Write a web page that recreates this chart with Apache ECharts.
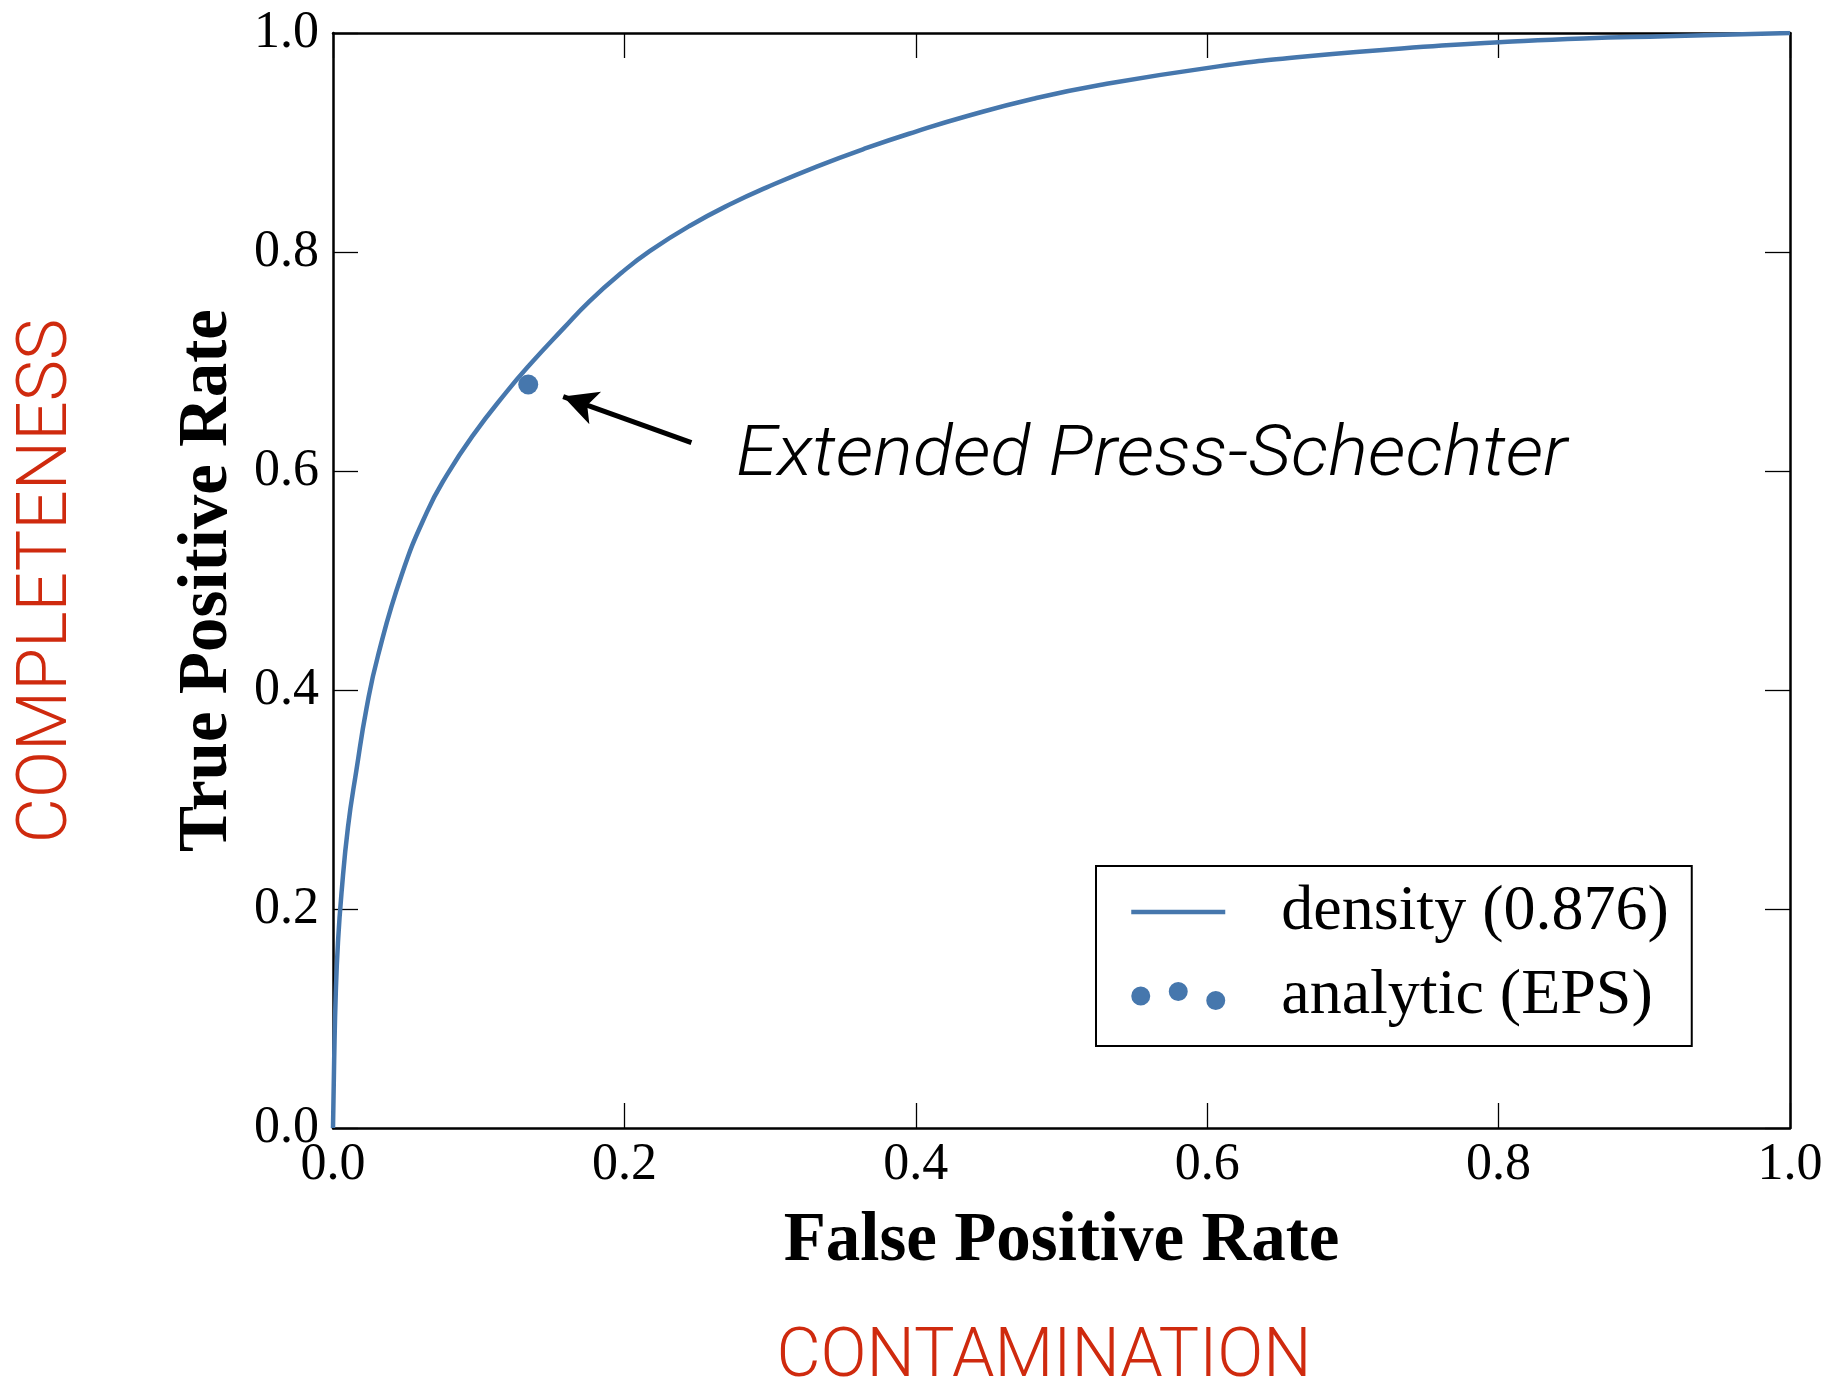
<!DOCTYPE html>
<html><head><meta charset="utf-8">
<script src="https://cdn.jsdelivr.net/npm/echarts@6/dist/echarts.min.js"></script>
<style>html,body{margin:0;padding:0;background:#fff}#c{width:1832px;height:1389px}</style>
</head><body><div id="c"></div>
<script>
// ROC curve (density model)
const fpr = [0, 0.0008, 0.0019, 0.0034, 0.0058, 0.0103, 0.0161, 0.0231, 0.031, 0.0471, 0.0643, 0.078, 0.0963, 0.119, 0.135, 0.158, 0.176, 0.198, 0.2176, 0.245, 0.2747, 0.2977, 0.332, 0.3663, 0.4001, 0.4348, 0.4807, 0.5264, 0.603, 0.669, 0.761, 0.803, 0.858, 0.915, 1.0];
const tpr = [0, 0.062, 0.123, 0.169, 0.214, 0.275, 0.327, 0.384, 0.432, 0.505, 0.562, 0.596, 0.633, 0.672, 0.697, 0.730, 0.755, 0.781, 0.801, 0.824, 0.845, 0.859, 0.878, 0.895, 0.910, 0.924, 0.940, 0.9525, 0.9686, 0.9788, 0.9885, 0.9917, 0.995, 0.997, 1.0];
// analytic (EPS) point
const epsPoint = [0.134, 0.679];
// annotation arrow (from text towards the point)
const arrowFrom = [0.246, 0.626];
const arrowTo = [0.158, 0.668];
const tickLabels = ['0.0', '0.2', '0.4', '0.6', '0.8', '1.0'];
const seriesNames = ['density (0.876)', 'analytic (EPS)'];
const xTitle = 'False Positive Rate';
const yTitle = 'True Positive Rate';
const annotationText = 'Extended Press-Schechter';
const redX = 'CONTAMINATION';
const redY = 'COMPLETENESS';

const BLUE = '#4677ad';
const RED = '#cf2a0e';
const SERIF = 'Liberation Serif';

const fmt = v => tickLabels[Math.round(v / 0.2)] ?? '';

const chart = echarts.init(document.getElementById('c'), null, {renderer: 'canvas'});

const baseAxis = {
  type: 'value', min: 0, max: 1, interval: 0.2,
  splitLine: {show: false},
  axisLine: {show: true, onZero: false, lineStyle: {color: '#000', width: 2.5}},
  axisTick: {show: true, inside: true, length: 25, lineStyle: {color: '#000', width: 1.3}},
};

chart.setOption({
  animation: false,
  backgroundColor: '#fff',
  grid: {left: 333, right: 42, top: 33, bottom: 261, containLabel: false, outerBoundsMode: 'none'},
  xAxis: [
    Object.assign({}, baseAxis, {
      position: 'bottom',
      name: xTitle, nameLocation: 'middle', nameGap: 80,
      nameTextStyle: {fontFamily: SERIF, fontWeight: 'bold', fontSize: 69, color: '#000'},
      axisLabel: {formatter: fmt, fontFamily: SERIF, fontSize: 52, color: '#000', margin: 11}
    }),
    Object.assign({}, baseAxis, {position: 'top', axisLabel: {show: false}})
  ],
  yAxis: [
    Object.assign({}, baseAxis, {
      position: 'left',
      name: yTitle, nameLocation: 'middle', nameGap: 90,
      nameTextStyle: {fontFamily: SERIF, fontWeight: 'bold', fontSize: 69, color: '#000'},
      axisLabel: {formatter: fmt, fontFamily: SERIF, fontSize: 52, color: '#000', margin: 14}
    }),
    Object.assign({}, baseAxis, {position: 'right', axisLabel: {show: false}})
  ],
  legend: {
    orient: 'vertical', left: 1096, top: 866,
    backgroundColor: '#fff', borderColor: '#000', borderWidth: 2, borderRadius: 0,
    padding: [14, 23, 18, 33], itemGap: 20, itemWidth: 94, itemHeight: 28,
    textStyle: {fontFamily: SERIF, fontSize: 64, color: '#000', lineHeight: 64, padding: [0, 0, 0, 51]},
    data: [
      {name: seriesNames[0], itemStyle: {opacity: 0}, lineStyle: {color: BLUE, width: 4.5}},
      {name: seriesNames[1], icon: 'path://M0,14a9.5,9.5 0 1,0 19,0a9.5,9.5 0 1,0 -19,0Z M37.5,9.5a9.5,9.5 0 1,0 19,0a9.5,9.5 0 1,0 -19,0Z M75,18.5a9.5,9.5 0 1,0 19,0a9.5,9.5 0 1,0 -19,0Z'}
    ]
  },
  series: [
    {
      name: seriesNames[0], type: 'line', xAxisIndex: 0, yAxisIndex: 0,
      data: fpr.map((x, i) => [x, tpr[i]]),
      symbol: 'none', showSymbol: false, smooth: 0.5,
      lineStyle: {color: BLUE, width: 4.5}, itemStyle: {color: BLUE}, z: 3
    },
    {
      name: seriesNames[1], type: 'scatter', xAxisIndex: 0, yAxisIndex: 0,
      data: [epsPoint], symbol: 'circle', symbolSize: 20,
      itemStyle: {color: BLUE, opacity: 1}, z: 4,
      markLine: {
        silent: true, symbol: ['none', 'arrow'], symbolSize: [26, 34],
        label: {show: false},
        lineStyle: {color: '#000', width: 5, type: 'solid'},
        data: [[{coord: arrowFrom}, {coord: arrowTo}]]
      }
    }
  ],
  graphic: [
    {type: 'text', x: 49, y: 581, rotation: Math.PI / 2,
      style: {text: redY, fontFamily: 'Roboto', fontWeight: 300, fontSize: 69.5, fill: RED, align: 'center', verticalAlign: 'middle'}},
    {type: 'text', x: 1044, y: 1359,
      style: {text: redX, fontFamily: 'Roboto', fontWeight: 300, fontSize: 68, fill: RED, align: 'center', verticalAlign: 'middle'}},
    {type: 'text', x: 736, y: 457, scaleX: 1.05,
      style: {text: annotationText, fontFamily: 'Roboto', fontWeight: 300, fontStyle: 'italic', fontSize: 71, fill: '#000', align: 'left', verticalAlign: 'middle'}}
  ]
});
</script>
</body></html>
